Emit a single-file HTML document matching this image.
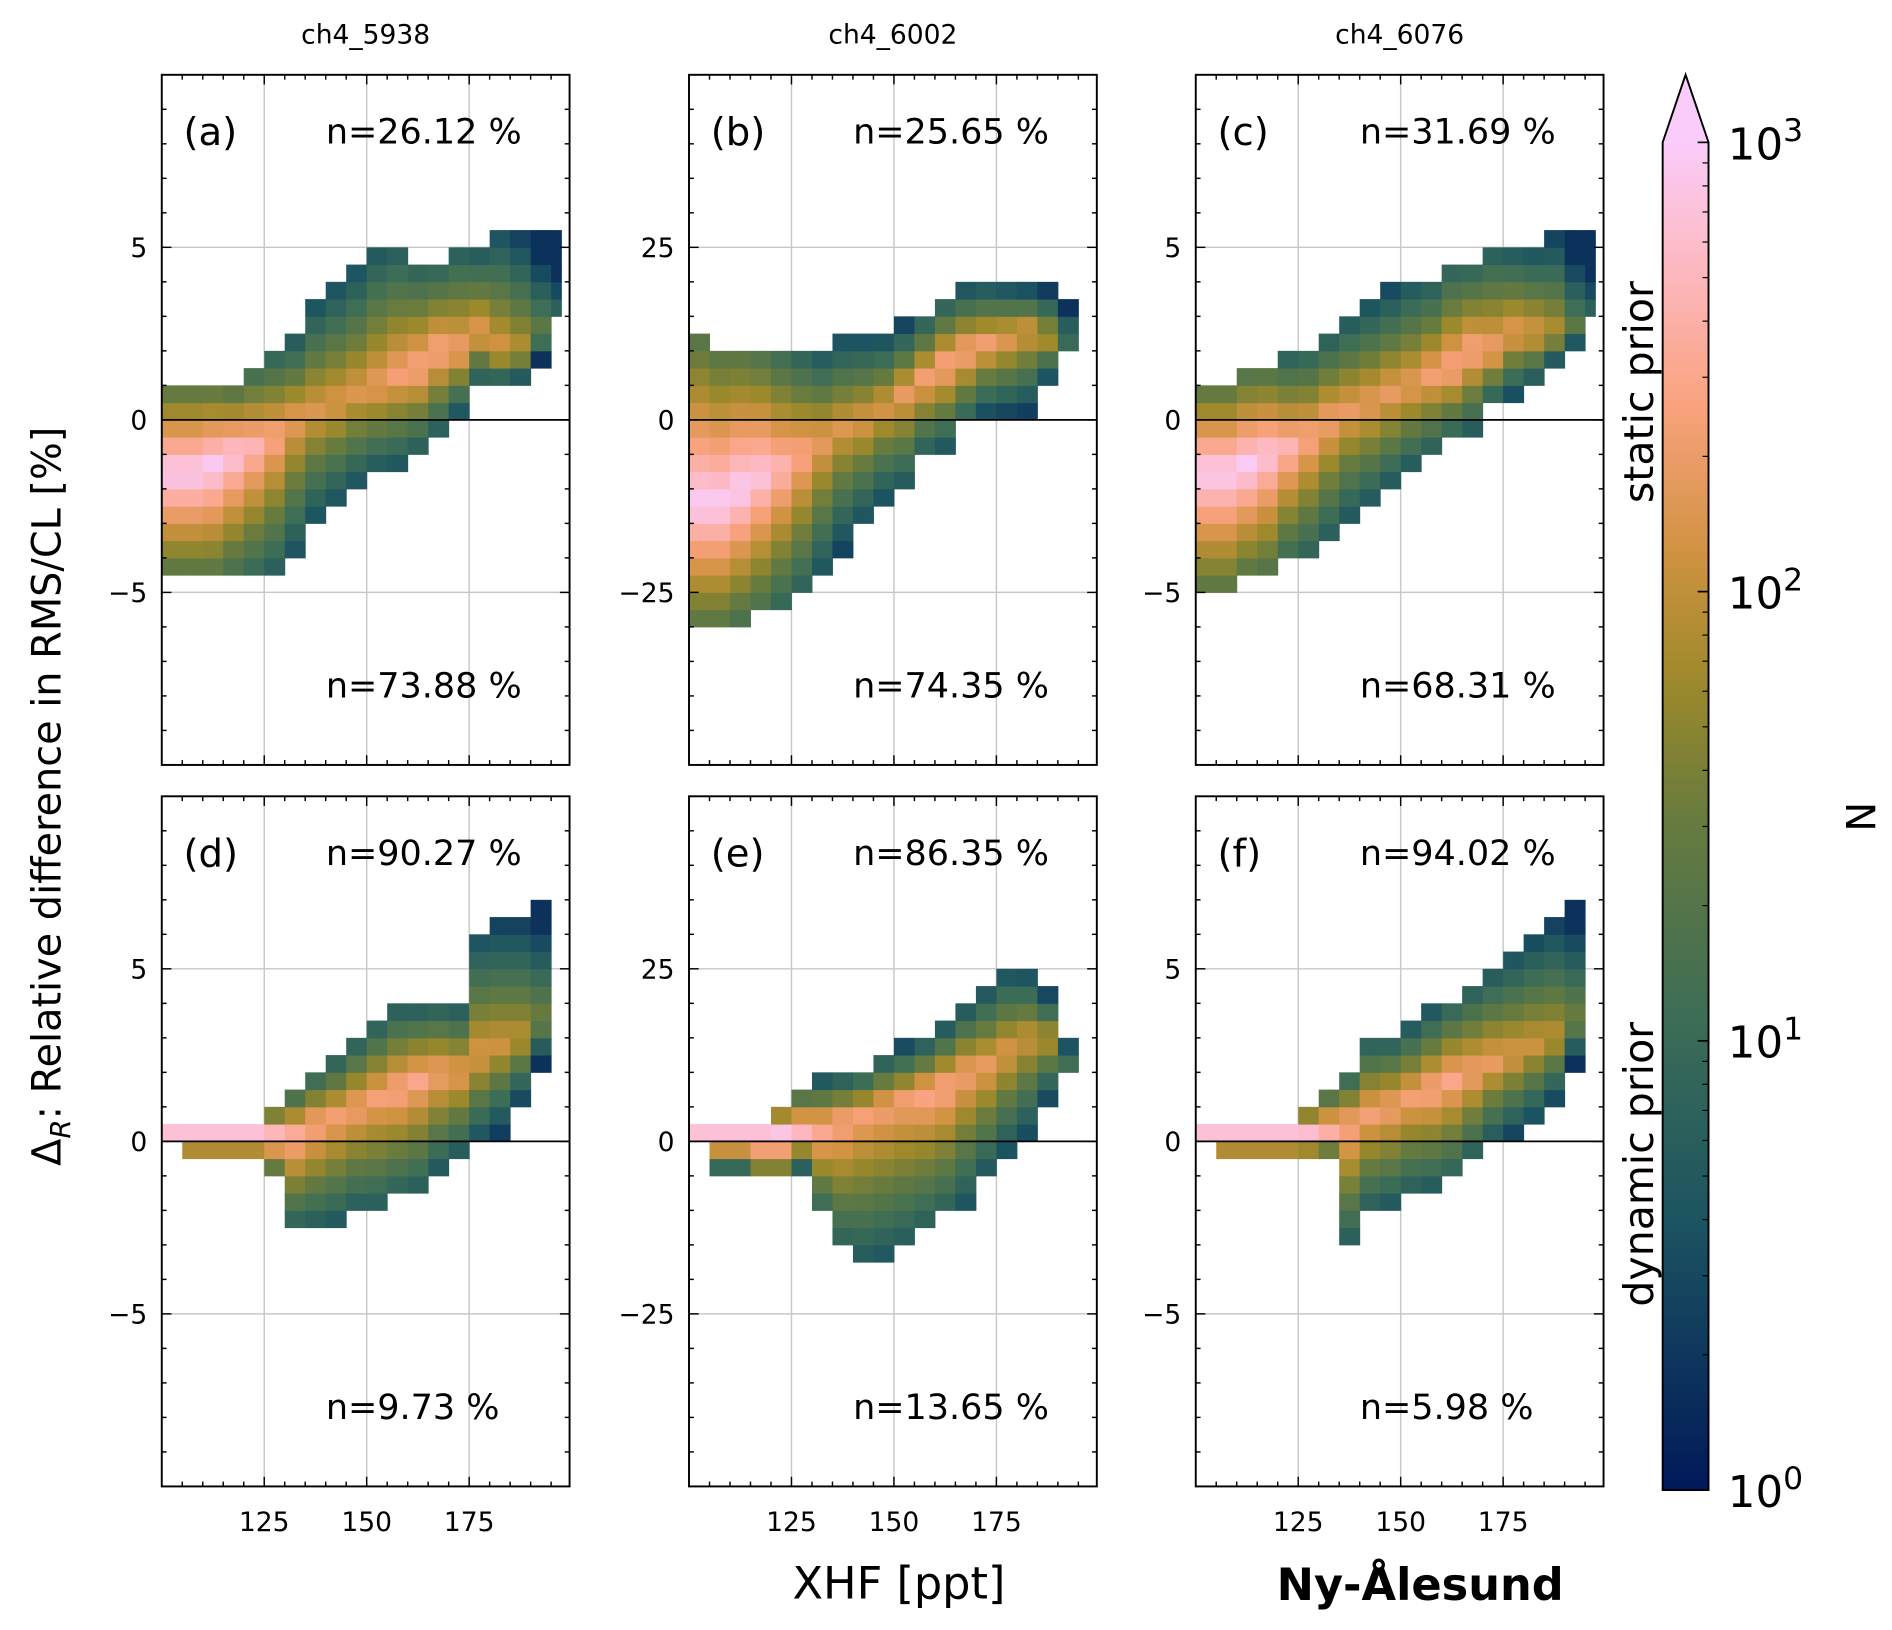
<!DOCTYPE html>
<html><head><meta charset="utf-8"><style>
html,body{margin:0;padding:0;background:#fff}
svg{display:block}
text{font-family:"DejaVu Sans","Liberation Sans",sans-serif;fill:#000}
</style></head><body>
<svg id="fig" width="1892" height="1630" viewBox="0 0 1568 1351" xmlns="http://www.w3.org/2000/svg">
<defs>
<linearGradient id="cmap" x1="0" y1="1" x2="0" y2="0">
<stop offset="0" stop-color="#011959"/><stop offset="0.2" stop-color="#1c5461"/><stop offset="0.35" stop-color="#3c6d56"/><stop offset="0.5" stop-color="#687b3e"/><stop offset="0.6" stop-color="#9d892b"/><stop offset="0.7" stop-color="#d29343"/><stop offset="0.8" stop-color="#f8a17b"/><stop offset="0.9" stop-color="#fdb7bc"/><stop offset="1" stop-color="#faccfa"/>
</linearGradient>
</defs>
<g id="root"></g>
</svg>
<script>
// x-bin centres (ppt) every 5 ppt
const xCenters=[100,105,110,115,120,125,130,135,140,145,150,155,160,165,170,175,180,185,190,195];
// panel (a)
const loA=[-4.5,-4.5,-4.5,-4.3,-4.3,-4.3,-3.8,-3,-2.5,-2,-1.5,-1.2,-0.8,-0.3,0.3,1,1,1,1.5,3];
const hiA=[1,1,1,1,1.5,2,2.5,3.5,4,4.5,5,5,4.5,4.5,5,5,5.5,5.5,5.5,5.5];
const ridgeA=[-1.5,-1.5,-1.3,-1,-0.8,-0.5,0,0.3,0.5,0.8,1,1.3,1.5,2,2,2.5,2,2,2.5,3];
const peakA=[3,3,3,2.9,2.7,2.5,2.3,2.2,2.2,2.2,2.3,2.4,2.5,2.5,2.4,2.3,2.2,2,1.5,1];
// panel (b)
const loB=[-30,-30,-28,-27,-26,-25,-22,-18,-15,-12,-10,-5,-3,0,2,2,2,5,10,null];
const hiB=[12,10,10,10,10,10,10,12,12,12,13,15,17,18,19,19,19,19,16,null];
const ridgeB=[-12,-12,-10,-8,-7,-5,-3,-1,0,2,4,6,8,10,11,12,13,12,12,null];
const peakB=[3,3,3,2.9,2.7,2.5,2.3,2.2,2.2,2.2,2.3,2.4,2.5,2.5,2.4,2.3,2.2,2,1.5,null];
// panel (c)
const loC=[-5,-5,-4.5,-4.5,-4,-4,-3.5,-3,-2.5,-2,-1.5,-1,-0.5,-0.2,0.5,0.8,1,1.5,2,3];
const hiC=[1,1,1.3,1.5,1.6,2,2.5,3,3.3,3.6,4,4,4.5,4.5,5,5,5,5.5,5.5,5.5];
const ridgeC=[-1.5,-1.5,-1.3,-1,-0.8,-0.5,0,0.3,0.5,0.8,1,1.3,1.5,2,2,2.5,2.5,2.5,2.5,3];
const peakC=[3,3,3,2.9,2.7,2.5,2.4,2.3,2.3,2.3,2.3,2.4,2.5,2.5,2.4,2.3,2.2,2,1.5,1];
// panel (d)
const loD=[0,-0.5,-0.5,-0.5,-0.5,-1,-2.3,-2.3,-2.3,-2,-2,-1.5,-1.3,-0.8,-0.5,0,0.3,1,2,null];
const hiD=[0.5,0.5,0.5,0.5,0.5,1,1.5,2,2.5,3,3.5,3.8,3.8,4,4,6,6.3,6.5,7,null];
const ridgeD=[0.2,0.2,0.2,0.2,0.2,0.2,0.2,0.5,0.7,1,1.3,1.5,1.8,2,2,2.5,2.8,3,3.5,null];
const peakD=[3,3,3,3,3,2.8,2.6,2.5,2.4,2.4,2.4,2.5,2.5,2.4,2.3,2.2,2.1,2,1.6,null];
// panel (e)
const loE=[0,-3,-3,-5,-5,-3,-10,-15,-17,-16,-15,-12,-10,-8,-5,-2,0,5,10,null];
const hiE=[2.5,2.5,2.5,2.5,5,7,8,9,10,12,13,14,16,19,22,25,25,22,15,null];
const ridgeE=[1,1,1,1,1,1.5,2,3,4,5,6,7,8,10,11,13,15,15,12,null];
const peakE=[3,3,3,3,3,2.8,2.6,2.5,2.4,2.4,2.4,2.5,2.5,2.4,2.3,2.2,2.1,2,1.6,null];
// panel (f)
const loF=[0,-0.5,-0.5,-0.5,-0.5,-0.5,-0.5,-2.8,-2,-1.8,-1.5,-1.2,-1,-0.5,0,0.3,0.5,1,2,null];
const hiF=[0.5,0.5,0.5,0.5,0.5,1,1.5,2,3,3,3.3,3.6,4,4.5,5,5.5,6,6.5,7,null];
const ridgeF=[0.2,0.2,0.2,0.2,0.2,0.2,0.3,0.5,0.8,1,1.3,1.5,1.8,2,2.3,2.5,2.8,3,3.5,null];
const peakF=[3,3,3,3,3,2.9,2.7,2.5,2.4,2.4,2.4,2.5,2.5,2.4,2.3,2.2,2.1,2,1.6,null];
const topN=["n=26.12 %","n=25.65 %","n=31.69 %","n=90.27 %","n=86.35 %","n=94.02 %"];
const botN=["n=73.88 %","n=74.35 %","n=68.31 %","n=9.73 %","n=13.65 %","n=5.98 %"];
const titles=["ch4_5938","ch4_6002","ch4_6076"];
const xTicks=[125,150,175];
const cbTicks=[0,1,2,3];

const NS="http://www.w3.org/2000/svg";
const root=document.getElementById('root');
function mk(tag,attrs,parent){const e=document.createElementNS(NS,tag);for(const k in attrs)e.setAttribute(k,attrs[k]);(parent||root).appendChild(e);return e;}
const stops=[[0,[1,25,89]],[0.2,[28,84,97]],[0.35,[60,109,86]],[0.5,[104,123,62]],[0.6,[157,137,43]],[0.7,[210,147,67]],[0.8,[248,161,123]],[0.9,[253,183,188]],[1,[250,204,250]]];
function cmap(t){t=Math.max(0,Math.min(1,t));for(let i=1;i<stops.length;i++){if(t<=stops[i][0]){const a=stops[i-1],b=stops[i],f=(t-a[0])/(b[0]-a[0]);const c=a[1].map((v,j)=>Math.round(v+(b[1][j]-v)*f));return `rgb(${c})`;}}return 'rgb(250,204,250)';}

const colsX=[134,571,991], rowsY=[62,660], PW=338, PH=572;
const panels=[
 {lo:loA,hi:hiA,ri:ridgeA,pk:peakA,ym:10,yt:[-5,0,5],lab:"(a)"},
 {lo:loB,hi:hiB,ri:ridgeB,pk:peakB,ym:50,yt:[-25,0,25],lab:"(b)"},
 {lo:loC,hi:hiC,ri:ridgeC,pk:peakC,ym:10,yt:[-5,0,5],lab:"(c)"},
 {lo:loD,hi:hiD,ri:ridgeD,pk:peakD,ym:10,yt:[-5,0,5],lab:"(d)"},
 {lo:loE,hi:hiE,ri:ridgeE,pk:peakE,ym:50,yt:[-25,0,25],lab:"(e)"},
 {lo:loF,hi:hiF,ri:ridgeF,pk:peakF,ym:10,yt:[-5,0,5],lab:"(f)"}];
const XMIN=100,XMAX=199.5;
panels.forEach((p,idx)=>{
 const c=idx%3,r=Math.floor(idx/3),x0=colsX[c],y0=rowsY[r];
 const g=mk('g',{});
 
 
 const xs=v=>x0+(v-XMIN)/(XMAX-XMIN)*PW;
 const ys=v=>y0+PH/2-v/p.ym*PH/2;
 xTicks.forEach(t=>mk('line',{x1:xs(t),x2:xs(t),y1:y0,y2:y0+PH,stroke:'#c8c8c8','stroke-width':1.2},g));
 p.yt.forEach(t=>mk('line',{x1:x0,x2:x0+PW,y1:ys(t),y2:ys(t),stroke:'#c8c8c8','stroke-width':1.2},g));
 const bw=2.5, bh=p.ym/20;
 xCenters.forEach((xc,i)=>{
  if(p.lo[i]===null)return;
  const lo=p.lo[i],hi=p.hi[i],ri=p.ri[i],pk=p.pk[i];
  for(let sub=0;sub<2;sub++){
   const xa=xc+sub*bw; if(xa>=197.5)continue;
   for(let yb=Math.floor(lo/bh)*bh;yb<hi-1e-9;yb+=bh){
    const yc=yb+bh/2;
    const span=yc>=ri?Math.max(hi-ri,bh):Math.max(ri-lo,bh);
    const d=Math.max(0.25,pk-1.7*Math.abs(yc-ri)/span);
    const cell=mk('rect',{x:xs(xa),y:ys(yb+bh),width:xs(xa+bw)-xs(xa)+0.4,height:ys(yb)-ys(yb+bh)+0.4,fill:cmap(d/3)},g);
    
    
   }
  }
 });
 mk('line',{x1:x0,x2:x0+PW,y1:ys(0),y2:ys(0),stroke:'#000','stroke-width':1.5},g);
 mk('rect',{x:x0,y:y0,width:PW,height:PH,fill:'none',stroke:'#000','stroke-width':1.6},g);
 for(let t=105;t<=195;t+=5){const maj=t%25===0;const L=maj?8:4;
  mk('line',{x1:xs(t),x2:xs(t),y1:y0+PH,y2:y0+PH-L,stroke:'#000','stroke-width':1.2},g);
  mk('line',{x1:xs(t),x2:xs(t),y1:y0,y2:y0+L,stroke:'#000','stroke-width':1.2},g);}
 const minorStep=p.ym/10;
 for(let k=-9;k<=9;k++){const t=k*minorStep;const maj=p.yt.some(v=>Math.abs(v-t)<1e-6);const L=maj?8:4;
  mk('line',{x1:x0,x2:x0+L,y1:ys(t),y2:ys(t),stroke:'#000','stroke-width':1.2},g);
  mk('line',{x1:x0+PW,x2:x0+PW-L,y1:ys(t),y2:ys(t),stroke:'#000','stroke-width':1.2},g);}
 p.yt.forEach(t=>{const tl=mk('text',{x:x0-12,y:ys(t)+8,'text-anchor':'end','font-size':22},g);tl.textContent=(t<0?'\u2212'+(-t):t);
  });
 if(r===1)xTicks.forEach(t=>{const tl=mk('text',{x:xs(t),y:y0+PH+37,'text-anchor':'middle','font-size':22},g);tl.textContent=t;
  });
 const lb=mk('text',{x:x0+18,y:y0+58,'font-size':32},g);lb.textContent=p.lab;
 
 const t1=mk('text',{x:x0+136,y:y0+57,'font-size':29},g);t1.textContent=topN[idx];
 
 const t2=mk('text',{x:x0+136,y:y0+516,'font-size':29},g);t2.textContent=botN[idx];
 
 if(r===0){const tt=mk('text',{x:x0+PW/2,y:36,'text-anchor':'middle','font-size':22},g);tt.textContent=titles[c];
  }
});
const cb=mk('g',{});


const cbX=1378,cbW=38,cbTop=118,cbBot=1235;
mk('rect',{x:cbX,y:cbTop,width:cbW,height:cbBot-cbTop,fill:'url(#cmap)'},cb);
mk('polygon',{points:`${cbX},${cbTop} ${cbX+cbW/2},62 ${cbX+cbW},${cbTop}`,fill:'#faccfa'},cb);
mk('path',{d:`M${cbX},${cbBot} L${cbX},${cbTop} L${cbX+cbW/2},62 L${cbX+cbW},${cbTop} L${cbX+cbW},${cbBot} Z`,fill:'none',stroke:'#000','stroke-width':1.6},cb);
const cy=v=>cbBot-v/3*(cbBot-cbTop);
cbTicks.forEach(v=>{
 mk('line',{x1:cbX+cbW,x2:cbX+cbW-9,y1:cy(v),y2:cy(v),stroke:'#000','stroke-width':1.4},cb);
 const t=mk('text',{x:1432,y:cy(v)+14,'font-size':36},cb);t.innerHTML='10<tspan dy="-15" font-size="26">'+v+'</tspan>';
 
});
for(let d=0;d<3;d++)for(let m=2;m<10;m++){const v=d+Math.log10(m);mk('line',{x1:cbX+cbW,x2:cbX+cbW-5,y1:cy(v),y2:cy(v),stroke:'#000','stroke-width':1},cb);}
</script>
<script>
const NS2="http://www.w3.org/2000/svg",R2=document.getElementById('root');
function tx(name,attrs,content){const e=document.createElementNS(NS2,'text');for(const k in attrs)e.setAttribute(k,attrs[k]);e.innerHTML=content;
 
 
 R2.appendChild(e);}
tx('y-axis-title',{x:0,y:0,transform:'translate(50,660) rotate(-90)','text-anchor':'middle','font-size':33},'Δ<tspan dy="8" font-size="23" font-style="italic">R</tspan><tspan dy="-8">: Relative difference in RMS/CL [%]</tspan>');
tx('x-axis-title',{x:745,y:1325,'text-anchor':'middle','font-size':37},'XHF [ppt]');
tx('site-label',{x:1177,y:1326,'text-anchor':'middle','font-size':37,'font-weight':'bold'},'Ny-Ålesund');
tx('colorbar-title',{x:0,y:0,transform:'translate(1530,677) rotate(90)','text-anchor':'middle','font-size':33},'N');
tx('static-prior-label',{x:0,y:0,transform:'translate(1370,325) rotate(-90)','text-anchor':'middle','font-size':34},'static prior');
tx('dynamic-prior-label',{x:0,y:0,transform:'translate(1370,965) rotate(-90)','text-anchor':'middle','font-size':34},'dynamic prior');
</script>
</body></html>
